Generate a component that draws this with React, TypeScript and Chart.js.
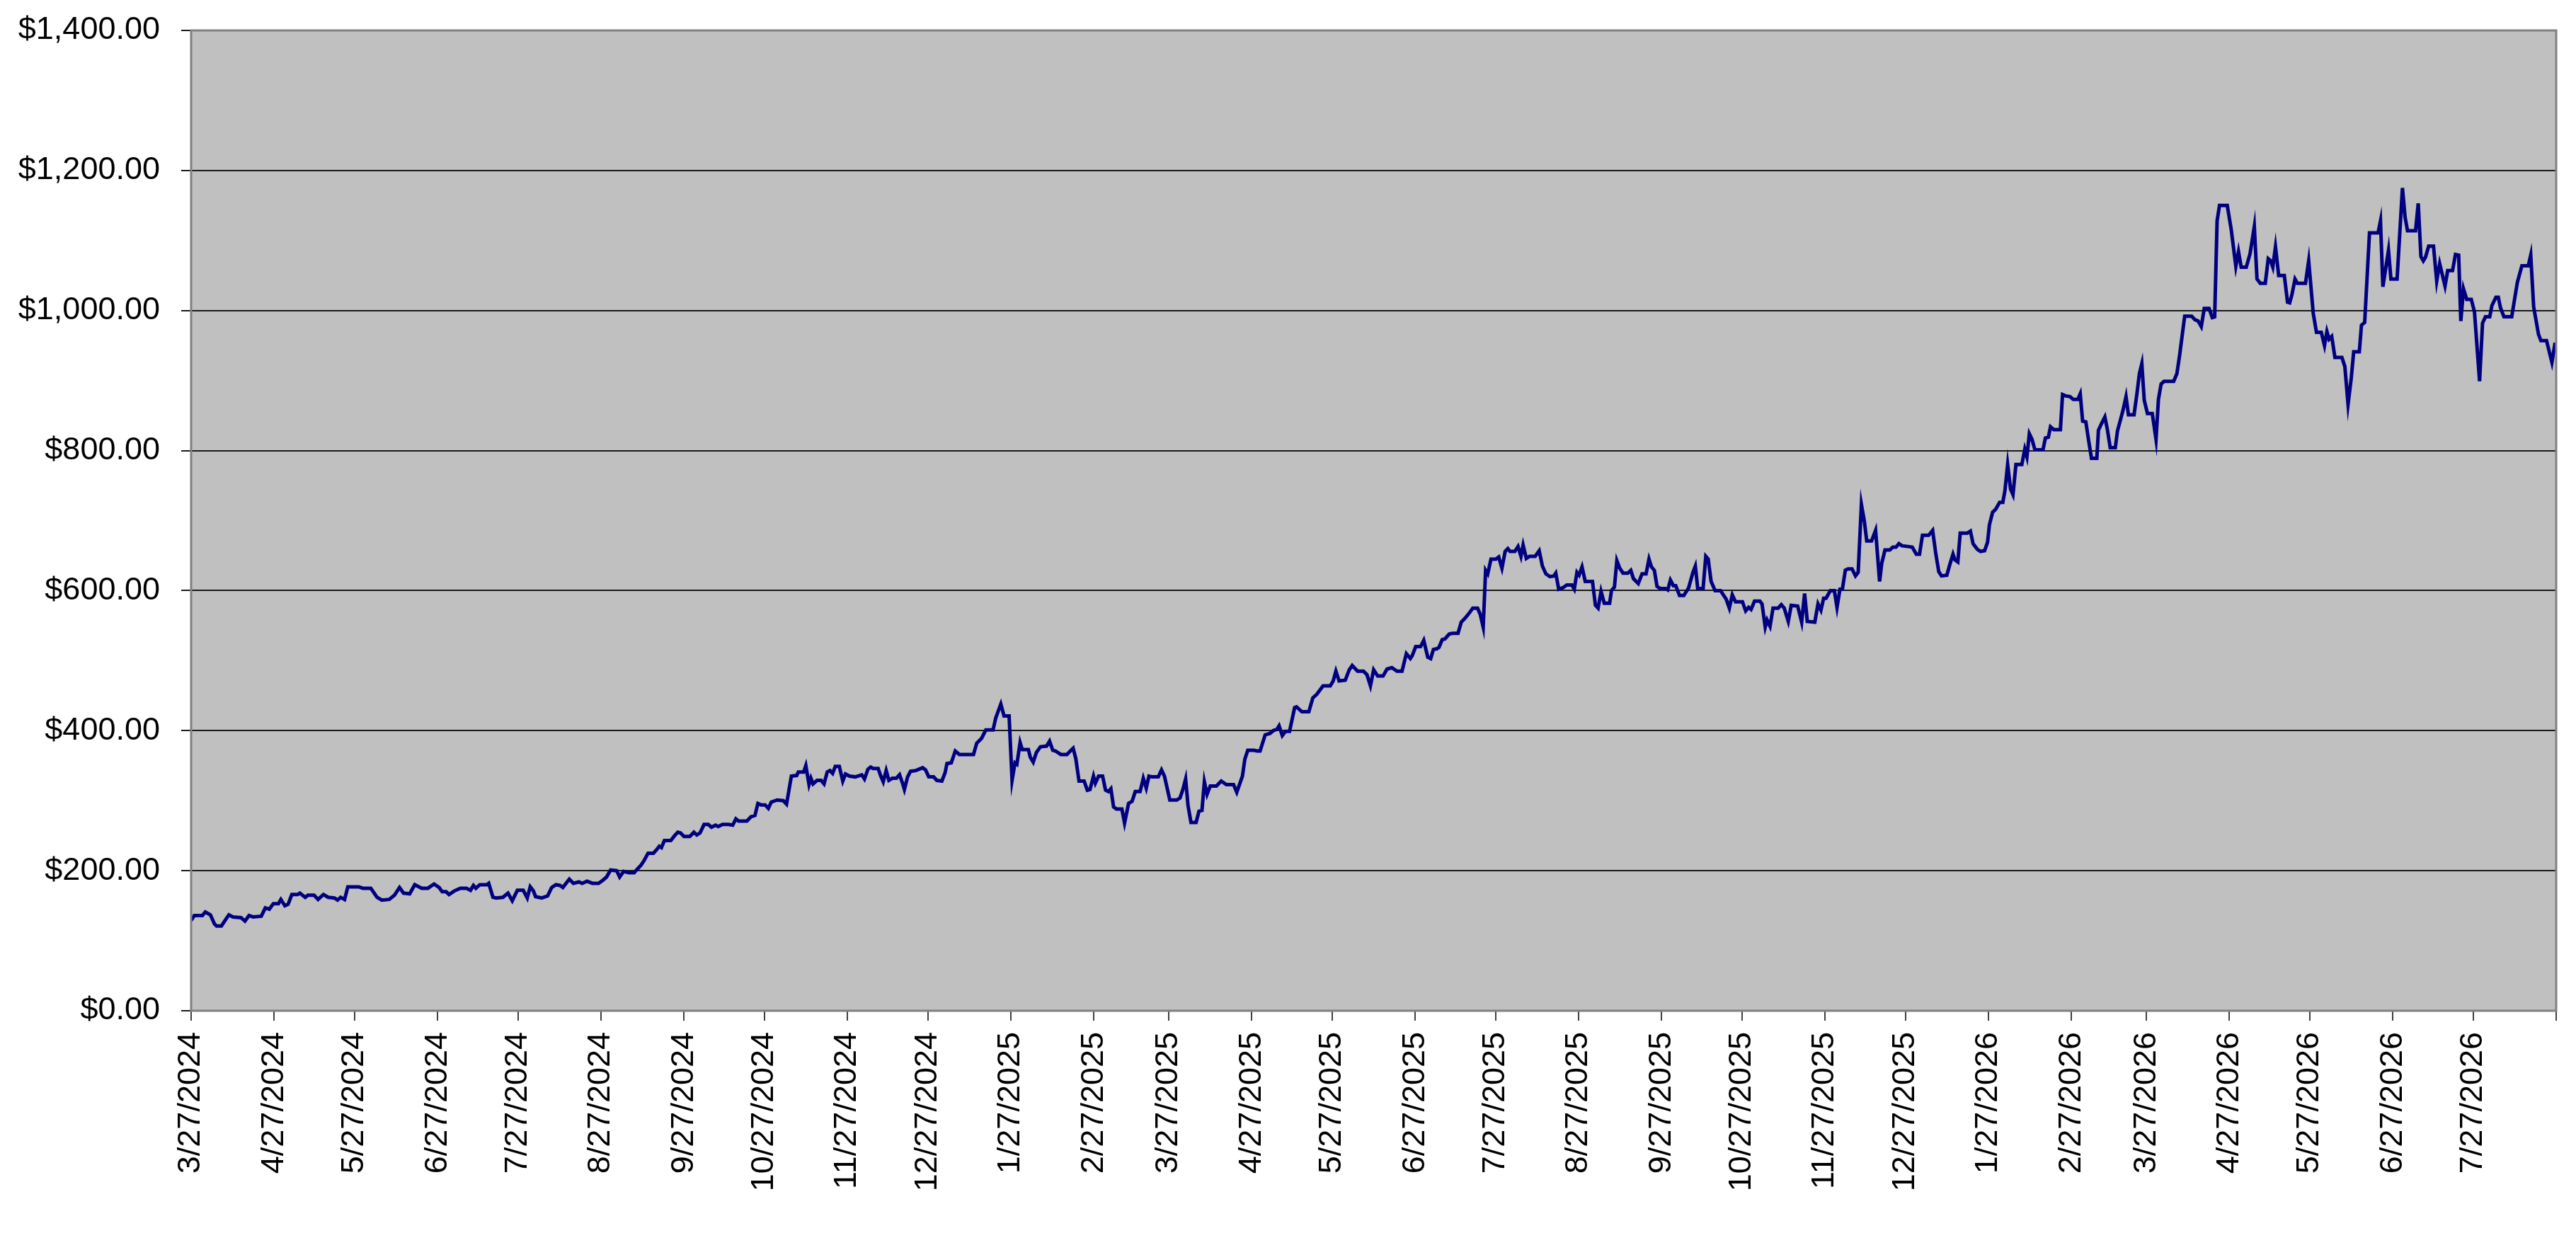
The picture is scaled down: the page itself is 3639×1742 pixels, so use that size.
import React, { useEffect, useRef } from 'react'
import { Chart, registerables } from 'chart.js'
Chart.register(...registerables)

// month ticks on the date axis (last one has no label, it closes the axis)
const tickLabels = [
  '3/27/2024', '4/27/2024', '5/27/2024', '6/27/2024', '7/27/2024', '8/27/2024', '9/27/2024',
  '10/27/2024', '11/27/2024', '12/27/2024', '1/27/2025', '2/27/2025', '3/27/2025', '4/27/2025',
  '5/27/2025', '6/27/2025', '7/27/2025', '8/27/2025', '9/27/2025', '10/27/2025', '11/27/2025',
  '12/27/2025', '1/27/2026', '2/27/2026', '3/27/2026', '4/27/2026', '5/27/2026', '6/27/2026',
  '7/27/2026',
]
const axisEndDate = '8/27/2026'

// y axis
const yMin = 0
const yMax = 1400
const yStep = 200

// days since 3/27/2024
const dayOffsets = [
  0, 1.2, 4.2, 5.3, 7.2, 8.7, 9.5, 11.3, 12.5, 14.1, 15.6, 18.6, 20.1, 21.6, 23.1, 26.2, 27.7, 29.2, 30.7, 32.6,
  33.5, 35, 36.2, 37.6, 39.8, 40.6, 42.6, 43.6, 45.9, 47.4, 49.4, 51.2, 53.5, 54.7, 55.8, 57.3, 58.5, 62.6, 64.1, 67.1,
  69.4, 71.2, 74, 75.9, 77.8, 79.3, 81.6, 83.5, 86.1, 88.4, 90.7, 92.6, 93.7, 95.2, 96.3, 98.2, 100.5, 102.8, 104.3, 105.4,
  106.3, 107.8, 110.4, 111.1, 112.7, 113.9, 116.4, 118.3, 119.9, 121.8, 124, 125.5, 126.6, 127.8, 128.6, 130.9, 133.1, 134.6, 136.2, 137.7,
  138.8, 141.2, 142.7, 144.8, 146, 147.8, 149.8, 152.1, 153.6, 155.1, 156.6, 158.9, 160, 161.5, 163.5, 165.4, 166.5, 168, 169.2, 170.6,
  172.6, 173.8, 174.8, 175.6, 176.7, 179.1, 180.5, 181.7, 182.7, 184, 186.2, 187.7, 188.8, 190, 191.5, 193.1, 194.3, 195.8, 196.8, 198.4,
  200.6, 202.2, 203.4, 204.4, 207.5, 209, 210.5, 211.6, 212.8, 214.3, 215.5, 216.6, 218.8, 221.1, 222.3, 224.1, 226.1, 226.7, 228.7, 229.5,
  230.7, 231.4, 232.2, 233.7, 235.2, 236.3, 237.5, 238.5, 239.5, 240.5, 242, 243.3, 244.3, 245.8, 248, 250.4, 251.4, 252.7, 253.7, 254.6,
  256.5, 257.5, 258.4, 259.5, 260.5, 261.8, 263.3, 264.5, 265.6, 266.3, 267.5, 268.6, 270.6, 273.1, 274.2, 275.4, 277.2, 278.4, 280.3, 281.5,
  282.2, 283.8, 285.3, 286.8, 292.1, 293.3, 295.1, 296.7, 299.4, 300.4, 302.3, 303.5, 305.4, 306.5, 307.6, 308.3, 309.5, 310.3, 312.6, 313.3,
  314.4, 315.6, 317.1, 319.4, 320.5, 321.7, 322.7, 324.7, 327, 328.5, 329.3, 330.3, 331.5, 333.4, 334.6, 335.6, 336.9, 337.6, 338.8, 340.3,
  341.4, 342.5, 343.4, 344.4, 345.5, 347.5, 348.5, 350, 351.3, 352.5, 354.3, 355.5, 356.6, 357.6, 358.8, 361.1, 362.3, 363.4, 365.4, 368,
  369.2, 370.2, 371.3, 372.2, 373.3, 375.2, 376.3, 377.4, 378.3, 379.3, 380.5, 382.8, 384.6, 386.5, 389.2, 390.4, 392.5, 393.4, 394.5, 396.8,
  398, 399.1, 401, 402.8, 404, 405.4, 406.2, 407.4, 408.6, 410.1, 412, 412.7, 414.7, 417.3, 418.8, 420.3, 422.6, 425.3, 426.4, 427.4,
  428.6, 430.9, 432.4, 433.5, 435.5, 437.7, 439, 440.3, 441.5, 443, 445, 446.5, 448.3, 450.2, 452.1, 453.7, 455.2, 455.9, 457.2, 459,
  460.2, 461.7, 462.8, 463.8,
  465.1, 465.9, 467.1, 468.1, 469.7, 470.9, 473, 474.2, 475.7, 477.2, 478.5, 480.3, 481.3, 482.4, 483.3, 484.1, 485.3, 487.1, 488.2, 489.4,
  490.6, 491.6, 492.4, 494.2, 495.4, 496.5, 497.3, 498.5, 499.7, 501.8, 503.3, 504.5, 505.8, 507.3, 508.8, 509.5, 510.6, 512.1, 513.6, 515.5,
  516.4, 517.4, 518.2, 519.3, 520.5, 523.2, 524.3, 525.3, 526.4, 527.6, 529.6, 530.3, 531.4, 532.3, 533.4, 534.6, 536.4, 537.5, 538.5, 540.3,
  541.7, 543.2, 544.3, 545.2, 546.3, 547.3, 548.5, 550.4, 551.3, 552.3, 553.4, 554.3, 555.7, 557.3, 559.1, 560.7, 561.6, 562.5, 564.5, 565.5,
  566.4, 567.5, 569, 571, 573.1, 574.3, 575.4, 576.6, 579.2, 580.4, 581.5, 582.4, 583.7, 585.7, 586.5, 587.7, 588.4, 589.5, 590.6, 592.5,
  593.7, 594.8, 596.3, 597.4, 599.8, 601.3, 602.4, 603.4, 606.2, 607.4, 608.5, 609.5, 610.4, 612, 613.5, 614.5, 615.6, 616.5, 617.6, 618.6,
  620.1, 621.4, 622.4, 623.6, 624.7, 625.6, 627.4, 628.9, 630.4, 631.2, 632.4, 634.2, 635.3, 636.5, 637.6, 638.8, 641.1, 642.6, 644.1, 645.3,
  646.4, 648.7, 650.2, 651.4, 652.5, 653.5, 655.5, 656.6, 657.8, 658.5, 659.6, 660.5, 663.1, 664.3, 665.3, 666.9, 668.1, 669.6, 670.7, 671.4,
  672.6, 673.7, 675.2, 676.4, 677.2, 678.2, 679.3, 680.2, 681.3, 683.5, 684.6, 685.4, 686.3, 687.3, 688.4, 691.4, 692.3, 693.4, 694.2, 695.4,
  697.9, 698.7, 699.9,
  701.5, 702.7, 704.4, 705.3, 706.2, 707.4, 708.3, 709.5, 711.5, 712.1, 713.3, 714.5, 715.4, 716.5, 718.4, 719.2, 720.4, 721.3, 722.4, 723.3,
  725.4, 726.5, 727.4, 728.3, 729.2, 730.4, 732.2, 733.6, 734.5, 735.5, 736.6, 740.2, 741.4, 742.4, 744.3, 746.9, 748.1, 749.3, 750.5, 751.6,
  753.4, 754.6, 755.5, 756.4, 757.3, 760.2, 761.7, 763.4, 764.4, 765.4, 767.3, 768.7, 770.3, 771.3, 772.5, 774.4, 775.5, 776.4, 777.2, 778.2,
  779.4, 781.5, 782.7, 783.5, 784.3, 785.5, 786.4, 789.4, 790.6, 792.3, 793.5, 795.3, 796.5, 797.4, 798.2, 799.2, 800.4, 803, 804.1, 805.3,
  806.5, 807.4, 809.5, 810.3, 811.5, 813.3, 816.5, 817.4, 818.3, 820.4, 821.3, 823.6, 825.6, 826.6, 827.5, 830.5, 831.5, 832.5, 833.4, 834.2,
  835.4, 837.2, 838.4, 839.5, 841.5, 842.5, 844.3, 845.4, 846.6, 847.4, 848.4, 849.6, 851.3, 852.5, 854.4, 855.5, 856.6, 858.2, 859, 860.5,
  861.4, 862.2, 863.5, 866.4, 868.5, 870.2, 872.6, 873.5, 874.6, 876.4, 877.3, 879.4, 881.4, 882.6,
]

// account value in dollars, one per day offset
const balances = [
  129, 136, 136, 141, 137, 124, 121, 121, 128, 137, 134, 133, 128, 136, 134, 135, 147, 145, 153, 153,
  159, 150, 152, 166, 166, 168, 162, 165, 165, 159, 166, 162, 161, 158, 162, 159, 177, 177, 175, 175,
  162, 158, 159, 165, 176, 168, 167, 180, 175, 175, 181, 176, 170, 170, 166, 171, 175, 175, 172, 179,
  175, 180, 180, 182, 162, 161, 162, 168, 157, 172, 172, 161, 177, 171, 163, 161, 164, 176, 180, 179,
  176, 188, 182, 184, 182, 185, 182, 182, 186, 191, 201, 200, 191, 199, 197, 197, 202, 208, 215, 225,
  225, 230, 235, 233, 243, 243, 250, 255, 254, 249, 249, 255, 251, 254, 266, 266, 262, 265, 263, 266,
  266, 265, 274, 271, 271, 277, 279, 296, 294, 294, 289, 298, 301, 300, 295, 335, 336, 341, 341, 350,
  323, 332, 324, 329, 329, 324, 341, 343, 339, 349, 349, 328, 338, 335, 334, 337, 331, 345, 348, 346,
  346, 335, 327, 343, 329, 332, 332, 337, 325, 316, 334, 342, 343, 347, 344, 334, 334, 329, 328, 340,
  353, 354, 371, 366, 366, 382, 389, 401, 401, 418, 438, 421, 421, 329, 354, 352, 383, 373, 373, 362,
  355, 369, 377, 378, 385, 372, 371, 366, 366, 372, 375, 360, 328, 328, 315, 316, 335, 325, 335, 335,
  315, 313, 317, 291, 288, 288, 268, 296, 299, 313, 313, 332, 318, 335, 334, 334, 344, 335, 301, 301,
  304, 315, 331, 293, 269, 269, 285, 286, 327, 309, 321, 321, 328, 323, 323, 312, 335, 359, 372, 372,
  371, 371, 394, 396, 400, 402, 407, 393, 399, 399, 433, 434, 427, 427, 447, 452, 464, 464, 471, 485,
  471, 472, 487, 493, 485, 485, 480, 464, 487, 478, 478, 488, 490, 485, 485, 510, 503, 507, 520, 520,
  529, 505, 503, 516,
  517, 519, 530, 531, 538, 539, 539, 555, 561, 568, 575, 575, 566, 548, 629, 624, 645, 645, 648, 632,
  656, 660, 656, 656, 663, 649, 665, 646, 649, 649, 657, 635, 624, 620, 621, 625, 602, 604, 608, 608,
  602, 626, 622, 634, 613, 613, 579, 575, 599, 582, 582, 600, 605, 643, 632, 625, 625, 629, 617, 610,
  624, 624, 645, 634, 629, 606, 603, 603, 601, 615, 607, 607, 593, 593, 604, 626, 635, 603, 603, 649,
  645, 613, 600, 600, 588, 575, 594, 584, 584, 571, 576, 573, 585, 585, 581, 548, 558, 549, 575, 575,
  580, 575, 556, 579, 578, 555, 596, 556, 555, 581, 572, 589, 589, 600, 600, 576, 602, 602, 629, 631,
  631, 621, 626, 723, 699, 671, 671, 686, 613, 639, 658, 658, 662, 662, 667, 664, 663, 662, 652, 652,
  679, 679, 686, 652, 627, 621, 622, 637, 652, 644, 641, 682, 682, 685, 667, 659, 656, 657, 669, 694,
  712, 716, 726, 726, 743, 780, 745, 737, 780, 780, 802, 791, 824, 816, 801, 801, 818, 819, 834, 830,
  830, 880, 878,
  877, 873, 873, 881, 842, 841, 818, 789, 789, 829, 839, 848, 831, 804, 804, 828, 845, 858, 877, 851,
  851, 882, 910, 924, 872, 853, 853, 816, 873, 895, 899, 899, 910, 936, 992, 992, 987, 985, 977, 1003,
  1003, 990, 991, 1128, 1150, 1150, 1115, 1063, 1084, 1062, 1062, 1081, 1120, 1045, 1039, 1039, 1074, 1071, 1062, 1091,
  1050, 1050, 1012, 1011, 1022, 1045, 1039, 1039, 1071, 996, 969, 969, 950, 970, 959, 963, 933, 933, 920, 866,
  904, 941, 941, 979, 983, 1111, 1111, 1128, 1034, 1086, 1045, 1045, 1175, 1133, 1114, 1114, 1153, 1077, 1071, 1076,
  1092, 1092, 1042, 1067, 1035, 1057, 1057, 1080, 1079, 985, 1031, 1016, 1016, 998, 899, 982, 991, 991, 1007, 1019,
  1019, 1004, 991, 991, 1040, 1064, 1064, 1079, 1005, 966, 957, 957, 926, 954,
]

const toDays = (label: string) => {
  const [m, d, y] = label.split('/').map(Number)
  const [m0, d0, y0] = tickLabels[0].split('/').map(Number)
  return Math.round((Date.UTC(y, m - 1, d) - Date.UTC(y0, m0 - 1, d0)) / 86400000)
}

const tickDays = tickLabels.map(toDays)
const endDay = toDays(axisEndDate)

const money = (v: number) =>
  '$' + v.toLocaleString('en-US', { minimumFractionDigits: 2, maximumFractionDigits: 2 })

const font = { family: '"Liberation Sans", Arial, sans-serif', size: 45 }

const plotFrame = {
  id: 'plotFrame',
  beforeDraw(chart: any) {
    const { ctx, chartArea: a } = chart
    ctx.save()
    ctx.fillStyle = '#c0c0c0'
    ctx.fillRect(a.left, a.top, a.right - a.left, a.bottom - a.top)
    ctx.restore()
  },
  afterDraw(chart: any) {
    const { ctx, chartArea: a } = chart
    ctx.save()
    ctx.strokeStyle = '#808080'
    ctx.lineWidth = 3
    ctx.strokeRect(a.left, a.top, a.right - a.left, a.bottom - a.top)
    ctx.restore()
  },
}

const BalanceChart: React.FC = () => {
  const ref = useRef<HTMLCanvasElement | null>(null)
  useEffect(() => {
    if (!ref.current) return
    const chart = new Chart(ref.current, {
      type: 'line',
      data: {
        datasets: [{
          data: dayOffsets.map((x, i) => ({ x, y: balances[i] })),
          borderColor: '#000080',
          borderWidth: 5,
          pointRadius: 0,
          tension: 0,
          fill: false,
        }],
      },
      options: {
        animation: false,
        responsive: true,
        maintainAspectRatio: false,
        layout: { padding: { top: 43, right: 28, left: 0, bottom: 0 } },
        plugins: { legend: { display: false }, tooltip: { enabled: false } },
        scales: {
          x: {
            type: 'linear',
            min: 0,
            max: endDay,
            afterBuildTicks: (scale: any) => {
              scale.ticks = [...tickDays, endDay].map((value) => ({ value }))
            },
            afterFit: (scale: any) => {
              scale.height = 314
              scale.paddingLeft = 0
              scale.paddingRight = 0
            },
            grid: { drawOnChartArea: false, drawTicks: true, tickLength: 14, color: '#404040', lineWidth: 2 },
            border: { display: false },
            ticks: {
              autoSkip: false,
              minRotation: 90,
              maxRotation: 90,
              padding: 16,
              color: '#000',
              font,
              callback: (value: any) => {
                const i = tickDays.indexOf(Number(value))
                return i >= 0 ? tickLabels[i] : ''
              },
            },
          },
          y: {
            min: yMin,
            max: yMax,
            afterFit: (scale: any) => {
              scale.width = 270
              scale.paddingTop = 0
              scale.paddingBottom = 0
            },
            grid: { color: '#1a1a1a', lineWidth: 2, tickLength: 14, drawTicks: true },
            border: { display: false },
            ticks: {
              stepSize: yStep,
              padding: 30,
              color: '#000',
              font,
              callback: (value: any) => money(Number(value)),
            },
          },
        },
      },
      plugins: [plotFrame],
    })
    return () => chart.destroy()
  }, [])
  return <div style={{ width: 3639, height: 1742 }}><canvas ref={ref} /></div>
}

export default function App() {
  useEffect(() => {
    document.body.style.margin = '0'
  }, [])
  return <BalanceChart />
}
